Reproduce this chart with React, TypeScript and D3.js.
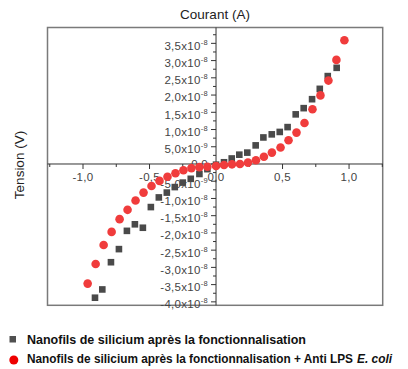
import React from "react";
import * as d3 from "d3";

// Current (A) values on the horizontal axis, tension (V, ×1e-8) on the vertical
const grayX = [-0.91, -0.855, -0.79, -0.73, -0.67, -0.61, -0.55, -0.49, -0.43, -0.37, -0.31, -0.25, -0.19, -0.125, -0.065, 0.0, 0.06, 0.118, 0.175, 0.235, 0.298, 0.356, 0.419, 0.479, 0.538, 0.599, 0.659, 0.722, 0.78, 0.84, 0.907];
const grayY = [-3.88, -3.64, -2.85, -2.47, -1.94, -1.75, -1.85, -1.25, -0.97, -0.83, -0.67, -0.54, -0.43, -0.29, -0.15, -0.02, 0.05, 0.16, 0.27, 0.33, 0.54, 0.77, 0.86, 0.93, 1.07, 1.44, 1.62, 1.88, 2.18, 2.55, 2.79];

const redX = [-0.965, -0.905, -0.845, -0.785, -0.725, -0.665, -0.605, -0.545, -0.485, -0.425, -0.365, -0.305, -0.245, -0.185, -0.125, -0.065, 0.0, 0.06, 0.12, 0.18, 0.24, 0.3, 0.36, 0.42, 0.485, 0.545, 0.605, 0.665, 0.725, 0.785, 0.845, 0.905, 0.965];
const redY = [-3.47, -2.9, -2.35, -1.97, -1.6, -1.33, -1.06, -0.83, -0.64, -0.49, -0.37, -0.27, -0.18, -0.12, -0.09, -0.08, -0.06, -0.03, -0.01, 0.0, 0.04, 0.11, 0.21, 0.33, 0.48, 0.69, 0.91, 1.19, 1.59, 1.99, 2.42, 3.02, 3.59];

const xTicks = [-1.0, -0.5, 0.0, 0.5, 1.0];
const xTickLabels = ["-1,0", "-0,5", "0,0", "0,5", "1,0"];
const yTicks = [-4.0e-8, -3.5e-8, -3.0e-8, -2.5e-8, -2.0e-8, -1.5e-8, -1.0e-8, -5.0e-9, 0, 5.0e-9, 1.0e-8, 1.5e-8, 2.0e-8, 2.5e-8, 3.0e-8, 3.5e-8];
const yTickMantissa = ["-4,0", "-3,5", "-3,0", "-2,5", "-2,0", "-1,5", "-1,0", "-5,0", "0,0", "5,0", "1,0", "1,5", "2,0", "2,5", "3,0", "3,5"];
const yTickExp = ["-8", "-8", "-8", "-8", "-8", "-8", "-8", "-9", "", "-9", "-8", "-8", "-8", "-8", "-8", "-8"];

const title = "Courant (A)";
const yTitle = "Tension (V)";
const legend1 = "Nanofils de silicium après la fonctionnalisation";
const legend2 = "Nanofils de silicium après la fonctionnalisation + Anti LPS";
const legend2Italic = "E. coli";

export default function App() {
  const W = 408, H = 369;
  const left = 47.5, right = 382.7, top = 27.5, bottom = 305.3;
  const x = d3.scaleLinear().domain([-1.267, 1.253]).range([left, right]);
  const y = d3.scaleLinear().domain([-4.1e-8, 3.96e-8]).range([bottom, top]);
  const x0 = x(0), y0 = y(0);

  const xMinor = d3.range(-1.25, 1.26, 0.25).filter((v) => Math.abs((v * 4) % 2) > 0.5);
  const yMinor = d3.range(-3.75e-8, 3.9e-8, 5e-9);

  const gray = grayX.map((v, i) => ({ x: v, y: grayY[i] * 1e-8 }));
  const red = redX.map((v, i) => ({ x: v, y: redY[i] * 1e-8 }));
  const font = "Liberation Sans, Arial, sans-serif";

  return (
    <svg width={W} height={H} style={{ position: "absolute", left: 0, top: 0, background: "#fff" }} fontFamily={font}>
      <rect x={left} y={top} width={right - left} height={bottom - top} fill="none" stroke="#7a7a7a" strokeWidth={1.5} />
      {/* axes through origin */}
      <line x1={left} x2={right} y1={y0} y2={y0} stroke="#333" strokeWidth={1} />
      <line x1={x0} x2={x0} y1={top} y2={bottom} stroke="#333" strokeWidth={1} />
      {xTicks.map((t) => (
        <line key={"xt" + t} x1={x(t)} x2={x(t)} y1={y0} y2={y0 + 5} stroke="#333" />
      ))}
      {xMinor.map((t) => (
        <line key={"xm" + t} x1={x(t)} x2={x(t)} y1={y0} y2={y0 + 3} stroke="#333" />
      ))}
      {xTicks.map((t, i) => (
        <text key={"xl" + t} x={x(t)} y={y0 + 17} textAnchor="middle" fontSize={11.5} fill="#444" letterSpacing={0.3}>
          {xTickLabels[i]}
        </text>
      ))}
      {yTicks.map((t) => (
        <line key={"yt" + t} x1={x0 - 5} x2={x0} y1={y(t)} y2={y(t)} stroke="#333" />
      ))}
      {yMinor.map((t) => (
        <line key={"ym" + t} x1={x0 - 3} x2={x0} y1={y(t)} y2={y(t)} stroke="#333" />
      ))}
      {yTicks.map((t, i) => (
        <text key={"yl" + t} x={x0 - 8} y={y(t) + (yTickExp[i] ? 6.4 : 4)} textAnchor="end" fontSize={11.5} fill="#444" letterSpacing={0.3}>
          {yTickExp[i] ? yTickMantissa[i] + "x10" : yTickMantissa[i]}
          {yTickExp[i] ? (
            <tspan fontSize={7.5} dy={-5}>{yTickExp[i]}</tspan>
          ) : null}
        </text>
      ))}
      {/* series */}
      {gray.map((d, i) => (
        <rect key={"g" + i} x={x(d.x) - 3.3} y={y(d.y) - 3.3} width={6.6} height={6.6} fill="#4a4a4a" />
      ))}
      {red.map((d, i) => (
        <circle key={"r" + i} cx={x(d.x)} cy={y(d.y)} r={4.3} fill="#f03c3c" />
      ))}
      {/* titles */}
      <text x={215} y={19} textAnchor="middle" fontSize={13.5} fill="#222">{title}</text>
      <text transform={`translate(24,165) rotate(-90)`} textAnchor="middle" fontSize={13.5} fill="#222">{yTitle}</text>
      {/* legend */}
      <rect x={9.5} y={336} width={6.5} height={6.5} fill="#505050" />
      <text x={27} y={343.5} fontSize={12} fontWeight="bold" fill="#111" textLength={279} lengthAdjust="spacingAndGlyphs">{legend1}</text>
      <circle cx={13.8} cy={360} r={4.5} fill="#ee0000" />
      <text x={27} y={362.5} fontSize={12} fontWeight="bold" fill="#111" textLength={326} lengthAdjust="spacingAndGlyphs">{legend2}</text>
      <text x={357} y={362.5} fontSize={12} fontWeight="bold" fontStyle="italic" fill="#111" textLength={35} lengthAdjust="spacingAndGlyphs">{legend2Italic}</text>
    </svg>
  );
}
